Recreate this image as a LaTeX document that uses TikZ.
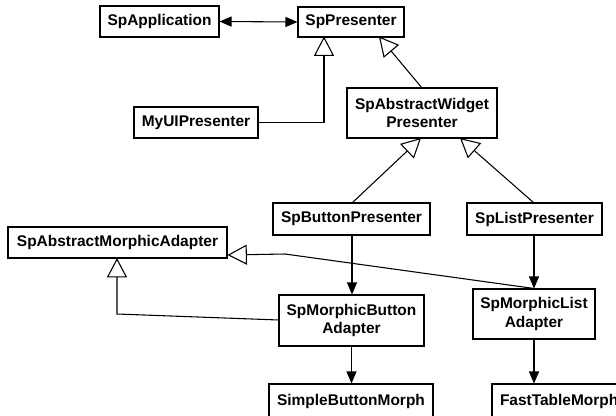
\documentclass[tikz,border=0pt]{standalone}
\usepackage{fontspec}
\setmainfont{Liberation Sans}
\usetikzlibrary{arrows.meta}
\begin{document}
\begin{tikzpicture}[x=0.75pt,y=-0.75pt,
  box/.style={draw, line width=0.8pt, inner sep=0pt, align=center,
    font=\bfseries\fontsize{11.6}{14}\selectfont},
  conn/.style={line width=0.8pt},
  gen/.style={conn, -{Triangle[open, fill=white, length=14.5pt, width=15pt]}},
  assoc/.style={conn, -{Triangle[length=9pt, width=7.5pt]}},
  bidir/.style={conn, {Triangle[length=9pt, width=7.5pt]}-{Triangle[length=9pt, width=7.5pt]}}]
\path[use as bounding box, clip] (0,0) rectangle (616,415);

\node[box, minimum width=119*0.75pt, minimum height=31*0.75pt] (app) at (159.5,21.5) {SpApplication};
\node[box, minimum width=106*0.75pt, minimum height=30*0.75pt] (pres) at (351,22) {SpPresenter};
\node[box, minimum width=124*0.75pt, minimum height=31*0.75pt] (myui) at (196,122.5) {MyUIPresenter};
\node[box, minimum width=150*0.75pt, minimum height=50*0.75pt] (awp) at (422,113) {SpAbstractWidget\\Presenter};
\node[box, minimum width=157*0.75pt, minimum height=32*0.75pt] (btnp) at (351.5,219) {SpButtonPresenter};
\node[box, minimum width=135*0.75pt, minimum height=32*0.75pt] (listp) at (534.5,219) {SpListPresenter};
\node[box, minimum width=219*0.75pt, minimum height=31*0.75pt] (ama) at (117.5,242.5) {SpAbstractMorphicAdapter};
\node[box, minimum width=145*0.75pt, minimum height=51*0.75pt] (mba) at (351.5,320.5) {SpMorphicButton\\Adapter};
\node[box, minimum width=122*0.75pt, minimum height=50*0.75pt] (mla) at (534,314) {SpMorphicList\\Adapter};
\node[box, minimum width=164*0.75pt, minimum height=34*0.75pt] (sbm) at (351,401) {SimpleButtonMorph};
\node[box, minimum width=134*0.75pt, minimum height=34*0.75pt, text width=134*0.75pt, align=left] (ftm) at (559,401) {\hspace*{6pt}FastTableMorph};

% anchor points
\coordinate (presA) at (324,36.5);
\coordinate (presB) at (379,36.5);
\coordinate (myuiBend) at (324,122.5);
\coordinate (awpTop) at (422,88);
\coordinate (awpA) at (421,138);
\coordinate (awpB) at (460,138);
\coordinate (btnTop) at (352,203);
\coordinate (listTop) at (534,203);
\coordinate (amaR) at (227.5,255);
\coordinate (amaBend) at (285,254);
\coordinate (amaB) at (117,258);
\coordinate (amaBend2) at (117,314);
\coordinate (mbaL) at (279,320);

\draw[bidir] (app.east) -- (pres.west);
\draw[gen] (myui.east) -- (myuiBend) -- (presA);
\draw[gen] (awpTop) -- (presB);
\draw[gen] (btnTop) -- (awpA);
\draw[gen] (listTop) -- (awpB);
\draw[assoc] (btnp.south -| btnTop) -- (mba.north -| btnTop);
\draw[assoc] (listp.south -| listTop) -- (mla.north -| listTop);
\draw[assoc] (mba.south) -- (sbm.north -| mba.south);
\draw[assoc] (mla.south) -- (ftm.north -| mla.south);
\draw[gen] (mla.north) -- (amaBend) -- (amaR);
\draw[gen] (mbaL) -- (amaBend2) -- (amaB);
\end{tikzpicture}
\end{document}
